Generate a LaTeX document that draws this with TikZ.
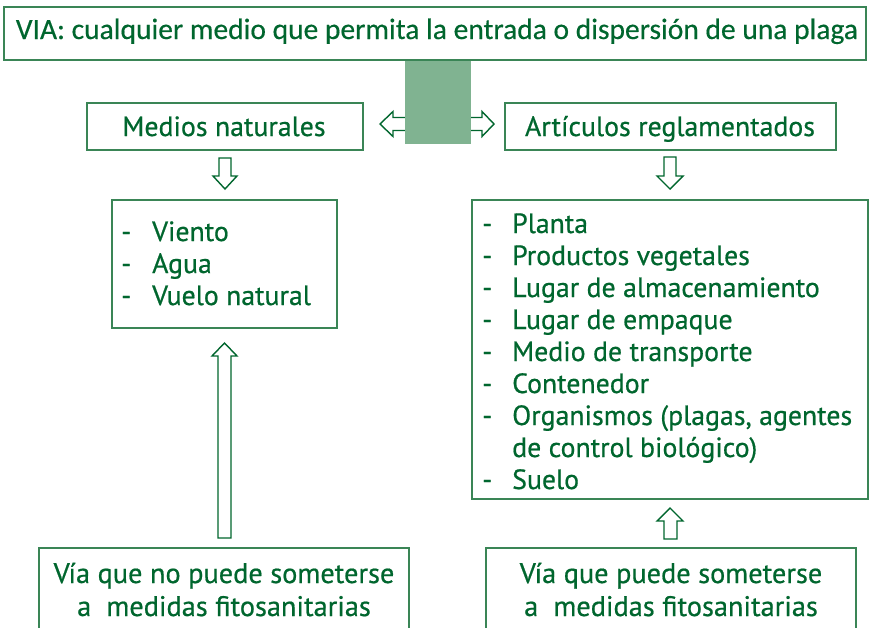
\documentclass[tikz,border=0pt]{standalone}
\usepackage{fontspec}
\setmainfont{PT Sans}[FakeBold=0.6]
\newfontfamily\titlefont{Carlito}[FakeBold=0.4]
\definecolor{txt}{HTML}{00662E}
\definecolor{bord}{HTML}{3A8556}
\definecolor{blk}{HTML}{80B391}
\begin{document}
\begin{tikzpicture}[x=1pt,y=-1pt,
  box/.style={draw=bord,line width=1.3pt,inner sep=0pt},
  lbl/.style={text=txt,inner sep=0pt,anchor=base,font=\fontsize{27.8}{32}\selectfont},
  blbl/.style={text=txt,inner sep=0pt,anchor=base,font=\fontsize{28.3}{33}\selectfont},
  listtxt/.style={text=txt,inner sep=0pt,anchor=base west,align=left,font=\fontsize{27.8}{32}\selectfont},
  arr/.style={draw=txt,line width=1.4pt,fill=white,line join=miter}]
\useasboundingbox (0,0) rectangle (869,627);
\fill[white] (0,0) rectangle (869,627);
% horizontal arrows (under the green block)
\draw[arr] (380,124) -- (393,111.5) -- (393,117.5) -- (412,117.5) -- (412,130.5) -- (393,130.5) -- (393,136.5) -- cycle;
\draw[arr] (494,124) -- (482,111.5) -- (482,117.5) -- (464,117.5) -- (464,130.5) -- (482,130.5) -- (482,136.5) -- cycle;
\fill[blk] (405,60) rectangle (471,144);
% title
\draw[box] (4,7) rectangle (866,60);
\node[text=txt,inner sep=0pt,anchor=base,font=\titlefont\fontsize{29.5}{32}\selectfont] (via) at (437,39) {VIA: cualquier medio que permita la entrada o dispersión de una plaga};
% second row
\draw[box] (87,103) rectangle (363,150);
\node[lbl] (med) at (224,136) {Medios naturales};
\draw[box] (505,103) rectangle (836,150);
\node[lbl] (art) at (670,136) {Artículos reglamentados};
% down arrows
\draw[arr] (219,158) -- (231,158) -- (231,176) -- (237,176) -- (225,189) -- (213,176) -- (219,176) -- cycle;
\draw[arr] (664,157) -- (676,157) -- (676,176) -- (683,176) -- (670,189) -- (657,176) -- (664,176) -- cycle;
% lists
\draw[box] (112,200) rectangle (337,328);
\node[listtxt] (l1) at (121,241) {\begin{tabular}[t]{@{}p{31pt}@{}l@{}}-&Viento\\-&Agua\\-&Vuelo natural\end{tabular}};
\draw[box] (472,200) rectangle (868,499);
\node[listtxt] (l2) at (482,233) {\begin{tabular}[t]{@{}p{30pt}@{}l@{}}-&Planta\\-&Productos vegetales\\-&Lugar de almacenamiento\\-&Lugar de empaque\\-&Medio de transporte\\-&Contenedor\\-&Organismos (plagas, agentes\\&de control biológico)\\-&Suelo\end{tabular}};
% up arrows
\draw[arr] (224.5,343) -- (237,356) -- (231,356) -- (231,538) -- (218,538) -- (218,356) -- (212,356) -- cycle;
\draw[arr] (670,508) -- (683,521) -- (677,521) -- (677,539) -- (664,539) -- (664,521) -- (657,521) -- cycle;
% bottom boxes
\draw[box] (39,548) rectangle (409,645);
\node[blbl] (b1) at (224,583) {Vía que no puede someterse};
\node[blbl] (b1b) at (224,616) {a\ \ medidas fitosanitarias};
\draw[box] (486,548) rectangle (856,645);
\node[blbl] (b2) at (671,583) {Vía que puede someterse};
\node[blbl] (b2b) at (671,616) {a\ \ medidas fitosanitarias};
\end{tikzpicture}
\end{document}
